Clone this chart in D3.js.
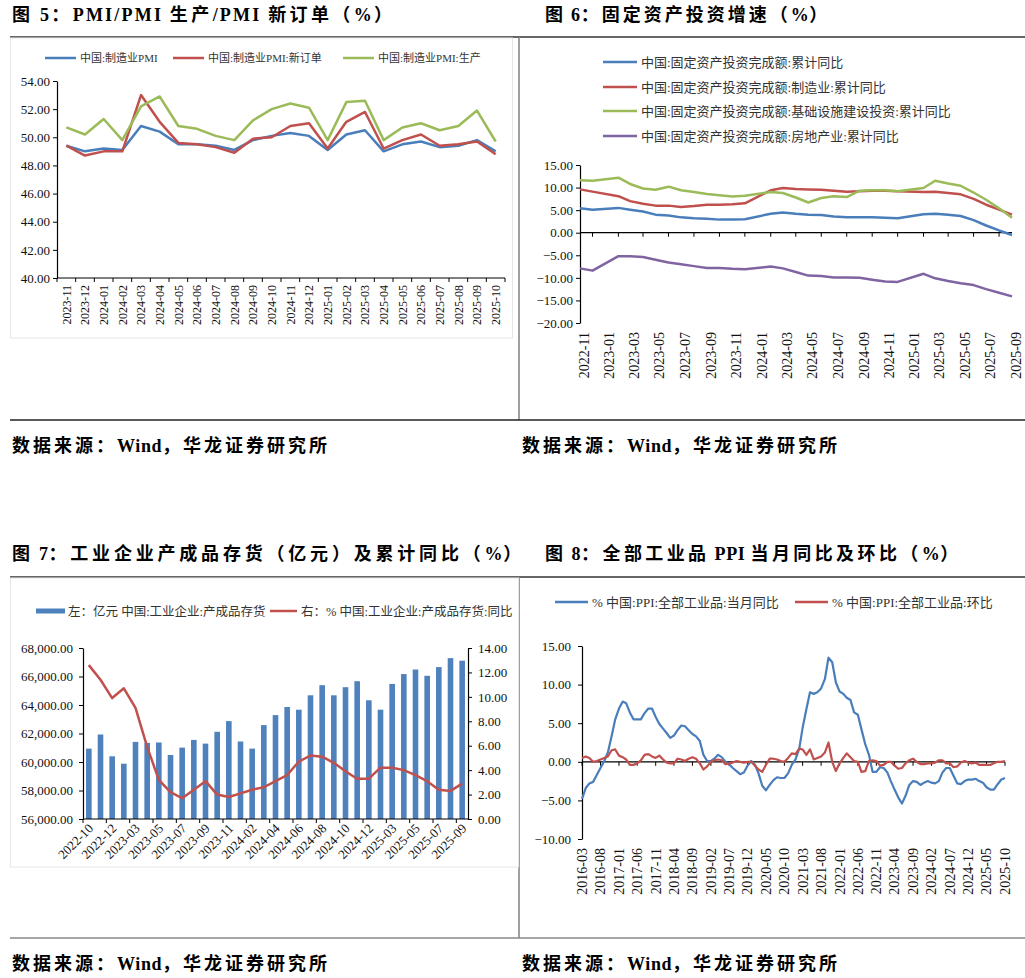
<!DOCTYPE html>
<meta charset="utf-8" />
<script src="https://d3js.org/d3.v7.min.js"></script>
<style>
  body { margin: 0; background: #fff; }
</style>
<div id="page"></div>
<script>
  // ---------- data: figure 5 (PMI) ----------
  const pmiMonths = ['2023-11','2023-12','2024-01','2024-02','2024-03','2024-04','2024-05','2024-06',
    '2024-07','2024-08','2024-09','2024-10','2024-11','2024-12','2025-01','2025-02','2025-03','2025-04',
    '2025-05','2025-06','2025-07','2025-08','2025-09','2025-10'];
  const pmiMain = [49.4,49.0,49.2,49.1,50.8,50.4,49.5,49.5,49.4,49.1,49.8,50.1,50.3,50.1,49.1,50.2,50.5,49.0,49.5,49.7,49.3,49.4,49.8,49.0];
  const pmiNewOrders = [49.4,48.7,49.0,49.0,53.0,51.1,49.6,49.5,49.3,48.9,49.9,50.0,50.8,51.0,49.2,51.1,51.8,49.2,49.8,50.2,49.4,49.5,49.7,48.8];
  const pmiProduction = [50.7,50.2,51.3,49.8,52.2,52.9,50.8,50.6,50.1,49.8,51.2,52.0,52.4,52.1,49.8,52.5,52.6,49.8,50.7,51.0,50.5,50.8,51.9,49.7];
  const pmiTicks = [40,42,44,46,48,50,52,54];

  // ---------- data: figure 6 (fixed asset investment, cumulative yoy) ----------
  const faiMonths = ['2022-11','2022-12','2023-02','2023-03','2023-04','2023-05','2023-06','2023-07','2023-08',
    '2023-09','2023-10','2023-11','2023-12','2024-02','2024-03','2024-04','2024-05','2024-06','2024-07',
    '2024-08','2024-09','2024-10','2024-11','2024-12','2025-02','2025-03','2025-04','2025-05','2025-06',
    '2025-07','2025-08','2025-09'];
  const faiTotal = [5.4,5.1,5.5,5.1,4.7,4.0,3.8,3.4,3.2,3.1,2.9,2.9,3.0,4.2,4.5,4.2,4.0,3.9,3.6,3.4,3.4,3.4,3.3,3.2,4.1,4.2,4.0,3.7,2.8,1.6,0.5,-0.5];
  const faiManu = [9.6,9.1,8.1,7.0,6.4,6.0,6.0,5.7,5.9,6.2,6.2,6.3,6.5,9.4,9.9,9.7,9.6,9.5,9.3,9.1,9.2,9.3,9.3,9.2,9.0,9.1,8.8,8.5,7.5,6.2,5.1,4.0];
  const faiInfra = [11.6,11.5,12.2,10.8,9.8,9.5,10.2,9.4,9.0,8.6,8.3,8.0,8.2,9.0,8.8,7.8,6.7,7.7,8.1,7.9,9.3,9.4,9.4,9.2,9.9,11.5,10.9,10.4,8.9,7.3,5.4,3.3];
  const faiRealty = [-7.9,-8.4,-5.2,-5.2,-5.4,-6.0,-6.6,-7.0,-7.4,-7.8,-7.8,-8.0,-8.1,-7.5,-7.9,-8.7,-9.5,-9.6,-9.9,-9.9,-10.0,-10.4,-10.8,-10.9,-9.1,-10.1,-10.7,-11.2,-11.6,-12.5,-13.3,-14.1];
  const faiTickLabels = ['2022-11','2023-01','2023-03','2023-05','2023-07','2023-09','2023-11','2024-01','2024-03',
    '2024-05','2024-07','2024-09','2024-11','2025-01','2025-03','2025-05','2025-07','2025-09'];
  const faiTicks = [-20,-15,-10,-5,0,5,10,15];

  // ---------- data: figure 7 (finished goods inventory) ----------
  const invMonths = ['2022-10','2022-11','2022-12','2023-02','2023-03','2023-04','2023-05','2023-06','2023-07',
    '2023-08','2023-09','2023-10','2023-11','2023-12','2024-02','2024-03','2024-04','2024-05','2024-06',
    '2024-07','2024-08','2024-09','2024-10','2024-11','2024-12','2025-02','2025-03','2025-04','2025-05',
    '2025-06','2025-07','2025-08','2025-09'];
  const invStock = [60940,61930,60400,59880,61410,61340,61370,60490,61010,61550,61290,62120,62870,61440,60940,62590,
    63290,63860,63670,64680,65390,64680,65250,65670,64330,63670,65480,66170,66490,66050,66660,67290,67110];
  const invYoy = [12.6,11.4,9.9,10.7,9.1,5.9,3.2,2.2,1.7,2.4,3.1,2.0,1.8,2.1,2.4,2.6,3.1,3.6,4.7,5.2,5.1,4.6,3.9,3.3,3.3,4.2,4.2,4.0,3.6,3.1,2.4,2.3,2.9];
  const invLeftTicks = [56000,58000,60000,62000,64000,66000,68000];
  const invRightTicks = [0,2,4,6,8,10,12,14];

  // ---------- data: figure 8 (PPI), monthly 2016-03 .. 2025-10 ----------
  const ppiStart = '2016-03', ppiEnd = '2025-10';
  const ppiYoy = [-4.8,-3.4,-2.8,-2.6,-1.7,-0.8,0.1,1.2,3.3,5.5,
    6.9,7.8,7.6,6.4,5.5,5.5,5.5,6.3,6.9,6.9,5.8,4.9,
    4.3,3.7,3.1,3.4,4.1,4.7,4.6,4.1,3.6,3.3,2.7,0.9,
    0.1,0.1,0.4,0.9,0.6,0.0,-0.3,-0.8,-1.2,-1.6,-1.4,-0.5,
    0.1,-0.4,-1.5,-3.1,-3.7,-3.0,-2.4,-2.0,-2.1,-2.1,-1.5,-0.4,
    0.3,1.7,4.4,6.8,9.0,8.8,9.0,9.5,10.7,13.5,12.9,10.3,
    9.1,8.8,8.3,8.0,6.4,6.1,4.2,2.3,0.9,-1.3,-1.3,-0.7,
    -0.8,-1.4,-2.5,-3.6,-4.6,-5.4,-4.4,-3.0,-2.5,-2.6,-3.0,-2.7,
    -2.5,-2.7,-2.8,-2.5,-1.4,-0.8,-0.8,-1.8,-2.8,-2.9,-2.5,-2.3,
    -2.3,-2.2,-2.5,-2.7,-3.3,-3.6,-3.6,-2.9,-2.3,-2.1];
  const ppiMom = [0.5,0.7,0.5,0.0,0.1,0.3,0.5,0.7,1.5,1.6,
    0.8,0.6,0.3,-0.4,-0.4,-0.2,0.2,0.9,1.0,0.7,0.5,0.8,
    0.3,-0.1,-0.2,-0.2,0.4,0.3,0.1,0.4,0.6,0.4,-0.2,-1.0,
    -0.6,0.0,0.2,0.3,0.2,-0.3,-0.2,-0.1,0.1,0.0,-0.1,0.0,
    0.0,-0.5,-1.0,-1.3,-0.4,0.4,0.4,0.3,0.1,0.0,0.5,1.1,
    1.0,1.7,1.6,0.9,1.6,0.3,0.5,0.7,1.2,2.5,0.0,-1.2,
    -0.2,0.5,1.1,0.6,0.1,0.0,-1.3,-1.2,0.1,0.2,0.1,-0.5,
    -0.4,0.0,0.0,-0.5,-0.9,-0.8,-0.2,0.2,0.4,0.0,-0.3,-0.3,
    -0.2,-0.2,-0.1,0.2,0.2,-0.2,-0.2,-0.7,-0.6,-0.1,0.1,-0.1,
    -0.2,-0.1,-0.4,-0.4,-0.4,-0.4,-0.2,0.0,0.0,0.1];
  const ppiTicks = [-10,-5,0,5,10,15];

  // ---------- setup ----------
  const serif = '"Liberation Serif","Noto Sans CJK SC",serif';
  const BLUE = '#4a7ebb', RED = '#c0504d', GREEN = '#9bbb59', PURPLE = '#8064a2';
  const parse = d3.timeParse('%Y-%m');
  const fmt2 = d3.format('.2f');

  const svg = d3.select('#page').append('svg')
    .attr('width', 1025).attr('height', 978)
    .attr('font-family', serif);

  function styleAxis(g, size) {
    g.attr('font-family', serif).attr('font-size', size);
    g.select('.domain').attr('stroke', '#000').attr('stroke-width', 1.2);
    g.selectAll('.tick line').attr('stroke', '#000');
    g.selectAll('.tick text').attr('fill', '#111');
  }

  function legendLine(x, y, len, color, label, size, width) {
    svg.append('line').attr('x1', x).attr('x2', x + len).attr('y1', y).attr('y2', y)
      .attr('stroke', color).attr('stroke-width', width || 2.5);
    svg.append('text').attr('x', x + len + 4).attr('y', y).attr('dy', '0.36em')
      .attr('font-size', size).attr('fill', '#333').text(label);
  }

  // heading text: wide tracking on the Chinese glyphs, tighter on Latin runs
  function heading(x, y, str, size, cjkSpacing, latinSpacing) {
    const t = svg.append('text').attr('x', x).attr('y', y)
      .attr('font-size', size).attr('font-weight', 'bold').attr('fill', '#000');
    const runs = str.match(/[\u3000-\u9fff\uff00-\uffef]+|[^\u3000-\u9fff\uff00-\uffef]+/g);
    runs.forEach(r => {
      const cjk = /[\u3000-\u9fff\uff00-\uffef]/.test(r);
      t.append('tspan').attr('letter-spacing', cjk ? cjkSpacing : latinSpacing).text(r);
    });
  }

  heading(12, 21, '图 5：PMI/PMI 生产/PMI 新订单（%）', 18, 3.4, 2.2);
  heading(545, 21, '图 6：固定资产投资增速（%）', 18, 3, 0.6);
  heading(12, 560, '图 7：工业企业产成品存货（亿元）及累计同比（%）', 18, 3.8, 0.6);
  heading(545, 560, '图 8：全部工业品 PPI 当月同比及环比（%）', 18, 3.4, 0.6);
  [[12, 452], [522, 452], [12, 970], [522, 970]].forEach(([x, y]) =>
    heading(x, y, '数据来源：Wind，华龙证券研究所', 18, 3, 0.6));

  const rules = [
    [10, 37, 1025, 37, '#333'], [519, 37, 519, 420, '#808080'], [10, 420, 1025, 420, '#222'],
    [10, 577, 1025, 577, '#333'], [519, 577, 519, 938, '#808080'], [10, 938, 1025, 938, '#888']
  ];
  svg.selectAll('.rule').data(rules).join('line').attr('class', 'rule')
    .attr('x1', d => d[0]).attr('y1', d => d[1]).attr('x2', d => d[2]).attr('y2', d => d[3])
    .attr('stroke', d => d[4]).attr('stroke-width', 1.5);

  // faint chart frames (fig 5, fig 7)
  svg.append('rect').attr('x', 10.5).attr('y', 38).attr('width', 502).attr('height', 300)
    .attr('fill', 'none').attr('stroke', '#e6e6e6');
  svg.append('rect').attr('x', 10.5).attr('y', 578).attr('width', 508).attr('height', 289)
    .attr('fill', 'none').attr('stroke', '#e6e6e6');

  // ---------- figure 5 ----------
  {
    const x = d3.scaleBand().domain(pmiMonths).range([57, 505]);
    const y = d3.scaleLinear().domain([40, 54]).range([278, 81]);
    const cx = d => x(d) + x.bandwidth() / 2;

    svg.append('g').attr('transform', 'translate(57,0)')
      .call(d3.axisLeft(y).tickValues(pmiTicks).tickFormat(fmt2).tickSize(4).tickSizeOuter(0))
      .call(g => styleAxis(g, 13));
    svg.append('line').attr('x1', 57).attr('x2', 505).attr('y1', y(40)).attr('y2', y(40))
      .attr('stroke', '#000').attr('stroke-width', 1.2);
    svg.append('g').selectAll('line').data(d3.range(pmiMonths.length + 1)).join('line')
      .attr('x1', i => 57 + i * x.step()).attr('x2', i => 57 + i * x.step())
      .attr('y1', y(40)).attr('y2', y(40) + 4).attr('stroke', '#000');
    svg.append('g').selectAll('text').data(pmiMonths).join('text')
      .attr('transform', d => `translate(${cx(d)},${y(40) + 7}) rotate(-90)`)
      .attr('text-anchor', 'end').attr('dy', '0.35em').attr('font-size', 12).attr('fill', '#111')
      .text(d => d);

    const line = d3.line().x(d => cx(d.m)).y(d => y(d.v));
    [[pmiMain, BLUE], [pmiNewOrders, RED], [pmiProduction, GREEN]].forEach(([vals, c]) => {
      svg.append('path').datum(vals.map((v, i) => ({ m: pmiMonths[i], v })))
        .attr('d', line).attr('fill', 'none').attr('stroke', c).attr('stroke-width', 2.5)
        .attr('stroke-linejoin', 'round');
    });

    legendLine(45, 58, 31, BLUE, '中国:制造业PMI', 11);
    legendLine(173, 58, 31, RED, '中国:制造业PMI:新订单', 11);
    legendLine(343, 58, 31, GREEN, '中国:制造业PMI:生产', 11);
  }

  // ---------- figure 6 ----------
  {
    const x = d3.scaleTime().domain([parse('2022-11'), parse('2025-09')]).range([580, 1012]);
    const y = d3.scaleLinear().domain([-20, 15]).range([323, 165]);

    svg.append('g').attr('transform', 'translate(580,0)')
      .call(d3.axisLeft(y).tickValues(faiTicks).tickFormat(fmt2).tickSize(4).tickSizeOuter(0))
      .call(g => styleAxis(g, 13));
    svg.append('line').attr('x1', 580).attr('x2', 1012).attr('y1', y(0)).attr('y2', y(0))
      .attr('stroke', '#000').attr('stroke-width', 1.2);
    // ticks sit between the labelled months
    const tickDates = faiTickLabels.slice(0, -1).map(d => d3.timeMonth.offset(parse(d), 1));
    svg.append('g').selectAll('line').data(tickDates).join('line')
      .attr('x1', d => x(d)).attr('x2', d => x(d))
      .attr('y1', y(0)).attr('y2', y(0) + 4).attr('stroke', '#000');
    svg.append('g').selectAll('text').data(faiTickLabels).join('text')
      .attr('transform', d => `translate(${x(parse(d)) + 4},${y(-20) + 9}) rotate(-90)`)
      .attr('text-anchor', 'end').attr('dy', '0.35em').attr('font-size', 14).attr('fill', '#111')
      .text(d => d);

    const line = d3.line().x(d => x(d.t)).y(d => y(d.v));
    [[faiTotal, BLUE], [faiManu, RED], [faiInfra, GREEN], [faiRealty, PURPLE]].forEach(([vals, c]) => {
      svg.append('path').datum(vals.map((v, i) => ({ t: parse(faiMonths[i]), v })))
        .attr('d', line).attr('fill', 'none').attr('stroke', c).attr('stroke-width', 2.5)
        .attr('stroke-linejoin', 'round');
    });

    legendLine(603, 62, 34, BLUE, '中国:固定资产投资完成额:累计同比', 13);
    legendLine(603, 87, 34, RED, '中国:固定资产投资完成额:制造业:累计同比', 13);
    legendLine(603, 111, 34, GREEN, '中国:固定资产投资完成额:基础设施建设投资:累计同比', 13);
    legendLine(603, 136, 34, PURPLE, '中国:固定资产投资完成额:房地产业:累计同比', 13);
  }

  // ---------- figure 7 ----------
  {
    const x = d3.scaleBand().domain(invMonths).range([83, 468]).paddingInner(0.52).paddingOuter(0.26);
    const yL = d3.scaleLinear().domain([56000, 68000]).range([819, 648]);
    const yR = d3.scaleLinear().domain([0, 14]).range([819, 648]);
    const cx = d => x(d) + x.bandwidth() / 2;

    svg.append('g').selectAll('rect').data(invStock).join('rect')
      .attr('x', (v, i) => x(invMonths[i])).attr('width', x.bandwidth())
      .attr('y', v => yL(v)).attr('height', v => yL(56000) - yL(v))
      .attr('fill', '#4f81bd');

    svg.append('g').attr('transform', 'translate(83,0)')
      .call(d3.axisLeft(yL).tickValues(invLeftTicks).tickFormat(d3.format(',.2f')).tickSize(4).tickPadding(6).tickSizeOuter(0))
      .call(g => styleAxis(g, 13));
    svg.append('g').attr('transform', 'translate(468,0)')
      .call(d3.axisRight(yR).tickValues(invRightTicks).tickFormat(fmt2).tickSize(4).tickPadding(6).tickSizeOuter(0))
      .call(g => styleAxis(g, 13));
    svg.append('line').attr('x1', 83).attr('x2', 468).attr('y1', 819).attr('y2', 819)
      .attr('stroke', '#000').attr('stroke-width', 1.2);
    svg.append('g').selectAll('line').data(d3.range(0, invMonths.length + 1, 2)).join('line')
      .attr('x1', i => 83 + i * x.step()).attr('x2', i => 83 + i * x.step())
      .attr('y1', 819).attr('y2', 823).attr('stroke', '#000');
    svg.append('g').selectAll('text').data(invMonths.filter((d, i) => i % 2 === 0)).join('text')
      .attr('transform', d => `translate(${cx(d) + 2},${826}) rotate(-45)`)
      .attr('text-anchor', 'end').attr('dy', '0.35em').attr('font-size', 13).attr('fill', '#111')
      .text(d => d);

    const line = d3.line().x(d => cx(d.m)).y(d => yR(d.v));
    svg.append('path').datum(invYoy.map((v, i) => ({ m: invMonths[i], v })))
      .attr('d', line).attr('fill', 'none').attr('stroke', RED).attr('stroke-width', 2.5)
      .attr('stroke-linejoin', 'round');

    svg.append('rect').attr('x', 36).attr('y', 608.5).attr('width', 29).attr('height', 5).attr('fill', '#4f81bd');
    svg.append('text').attr('x', 68).attr('y', 611).attr('dy', '0.36em').attr('font-size', 12.5)
      .attr('fill', '#333').text('左：亿元 中国:工业企业:产成品存货');
    legendLine(270, 611, 27, RED, '右：% 中国:工业企业:产成品存货:同比', 12.5);
  }

  // ---------- figure 8 ----------
  {
    const months = d3.timeMonth.range(parse(ppiStart), d3.timeMonth.offset(parse(ppiEnd), 1));
    const x = d3.scaleTime().domain([parse(ppiStart), parse(ppiEnd)]).range([582, 1005]);
    const y = d3.scaleLinear().domain([-10, 15]).range([839, 646]);
    const tf = d3.timeFormat('%Y-%m');

    svg.append('g').attr('transform', 'translate(582,0)')
      .call(d3.axisLeft(y).tickValues(ppiTicks).tickFormat(fmt2).tickSize(4).tickPadding(7).tickSizeOuter(0))
      .call(g => styleAxis(g, 13));
    svg.append('line').attr('x1', 582).attr('x2', 1005).attr('y1', y(0)).attr('y2', y(0))
      .attr('stroke', '#000').attr('stroke-width', 1.2);
    const labelled = months.filter((d, i) => i % 5 === 0);
    svg.append('g').selectAll('line').data(labelled).join('line')
      .attr('x1', d => x(d)).attr('x2', d => x(d))
      .attr('y1', y(0)).attr('y2', y(0) + 4).attr('stroke', '#000');
    svg.append('g').selectAll('text').data(labelled).join('text')
      .attr('transform', d => `translate(${x(d)},${y(-10) + 9}) rotate(-90)`)
      .attr('text-anchor', 'end').attr('dy', '0.35em').attr('font-size', 14).attr('fill', '#111')
      .text(d => tf(d));

    const line = d3.line().x(d => x(d.t)).y(d => y(d.v));
    [[ppiYoy, BLUE], [ppiMom, RED]].forEach(([vals, c]) => {
      svg.append('path').datum(vals.map((v, i) => ({ t: months[i], v })))
        .attr('d', line).attr('fill', 'none').attr('stroke', c).attr('stroke-width', 2.2)
        .attr('stroke-linejoin', 'round');
    });

    legendLine(555, 602, 33, BLUE, '% 中国:PPI:全部工业品:当月同比', 13);
    legendLine(795, 602, 33, RED, '% 中国:PPI:全部工业品:环比', 13);
  }
</script>
